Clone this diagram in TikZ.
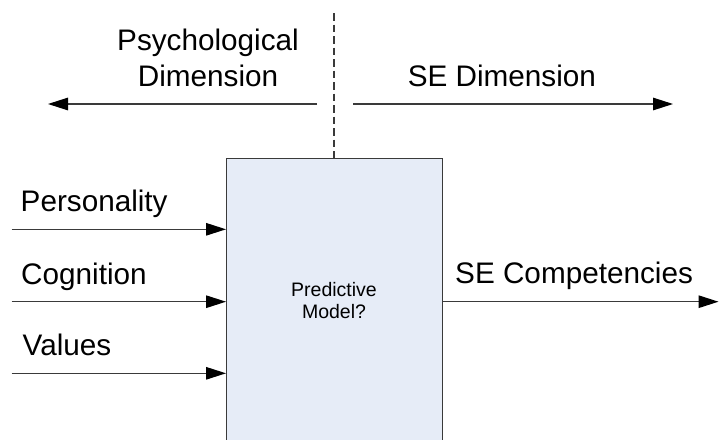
\documentclass[tikz,border=0pt]{standalone}
\usepackage{fontspec}
\setmainfont{Liberation Sans}
\usetikzlibrary{arrows.meta}

\definecolor{boxfill}{HTML}{E6ECF7}
\definecolor{linegray}{HTML}{3A3A3A}

\tikzset{
  biglabel/.style={font=\fontsize{29.7}{34}\selectfont, inner sep=0pt},
  smalllabel/.style={font=\fontsize{19.5}{22}\selectfont, inner sep=0pt, align=center},
  flow/.style={draw=linegray, line width=1.3pt,
    -{Triangle[length=20pt, width=12.5pt, fill=black, color=black]}},
  divider/.style={draw=linegray, line width=1.2pt, dash pattern=on 7.5pt off 4pt},
  modelbox/.style={draw=linegray, fill=boxfill, line width=1.3pt, inner sep=0pt,
    minimum width=216pt, minimum height=300pt, anchor=north west}
}

\begin{document}
\begin{tikzpicture}[x=1pt, y=-1pt]
  \useasboundingbox (0,0) rectangle (719,439);
  \clip (0,0) rectangle (719,439);

  % central model block (runs off the lower edge)
  \node[modelbox] (box) at (226,158) {};
  \node[smalllabel, anchor=base] (model1) at (334,296) {Predictive};
  \node[smalllabel, anchor=base] (model2) at (334,318) {Model?};

  % dashed divider between the two dimensions
  \coordinate (dtop) at (334,13);
  \draw[divider] (dtop) -- (dtop |- box.north);

  % dimension labels and arrows
  \node[biglabel, anchor=base] (psy1) at (208,50) {Psychological};
  \node[biglabel, anchor=base] (psy2) at (208,86.5) {Dimension};
  \node[biglabel, anchor=base west] (sedim) at (407.6,86.5) {SE Dimension};

  \coordinate (ls) at (317,104);
  \coordinate (le) at (48,104);
  \coordinate (rs) at (353,104);
  \coordinate (re) at (673,104);
  \draw[flow] (ls) -- (le);
  \draw[flow] (rs) -- (re);

  % inputs
  \node[biglabel, anchor=base west] (pers) at (20.5,211.7) {Personality};
  \node[biglabel, anchor=base west] (cogn) at (21,284) {Cognition};
  \node[biglabel, anchor=base west] (vals) at (22.5,355) {Values};

  \coordinate (in1) at (11.5,229.3);
  \coordinate (in2) at (11.5,301.7);
  \coordinate (in3) at (11.5,373.3);
  \draw[flow] (in1) -- (in1 -| box.west);
  \draw[flow] (in2) -- (in2 -| box.west);
  \draw[flow] (in3) -- (in3 -| box.west);

  % output
  \node[biglabel, anchor=base west] (secomp) at (455,283) {SE Competencies};
  \coordinate (out) at (718.5,301.7);
  \draw[flow] (out -| box.east) -- (out);
\end{tikzpicture}
\end{document}
